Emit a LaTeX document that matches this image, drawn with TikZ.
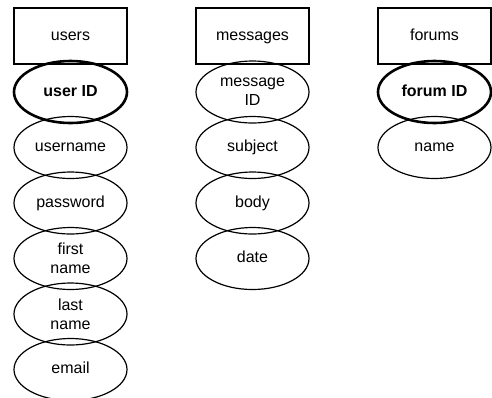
\documentclass[tikz,border=0pt]{standalone}
\usepackage{fontspec}
\setmainfont{Liberation Sans}
\usetikzlibrary{shapes, positioning}

\begin{document}
\begin{tikzpicture}[x=1pt, y=1pt,
  entity/.style={draw, line width=1.2pt, minimum width=113pt, minimum height=56pt, inner sep=0pt, outer sep=0pt, text height=11.5pt, text depth=3.2pt, font=\fontsize{16}{19}\selectfont},
  attrtwo/.style={draw, ellipse, line width=1.2pt, minimum width=113pt, minimum height=62pt, inner sep=0pt, outer sep=0pt, align=center, font=\fontsize{16}{19}\selectfont},
  attr/.style={attrtwo, text height=11.5pt, text depth=3.2pt},
  keyattr/.style={attr, line width=2.6pt, font=\fontsize{16}{19}\selectfont\bfseries}]
  \useasboundingbox (0,0) rectangle (492,-397);

  \node[entity] (users) at (70.5,-36) {users};
  \node[keyattr, below=-3pt of users] (userid) {user ID};
  \node[attr, below=-6.5pt of userid] (username) {username};
  \node[attr, below=-6.5pt of username] (password) {password};
  \node[attrtwo, below=-6.5pt of password] (firstname) {first\\name};
  \node[attrtwo, below=-6.5pt of firstname] (lastname) {last\\name};
  \node[attr, below=-6.5pt of lastname] (email) {email};

  \node[entity] (messages) at (252.5,-36) {messages};
  \node[attrtwo, below=-3pt of messages] (messageid) {message\\ID};
  \node[attr, below=-6.5pt of messageid] (subject) {subject};
  \node[attr, below=-6.5pt of subject] (body) {body};
  \node[attr, below=-6.5pt of body] (date) {date};

  \node[entity] (forums) at (434.5,-36) {forums};
  \node[keyattr, below=-3pt of forums] (forumid) {forum ID};
  \node[attr, below=-6.5pt of forumid] (forumname) {name};
\end{tikzpicture}
\end{document}
